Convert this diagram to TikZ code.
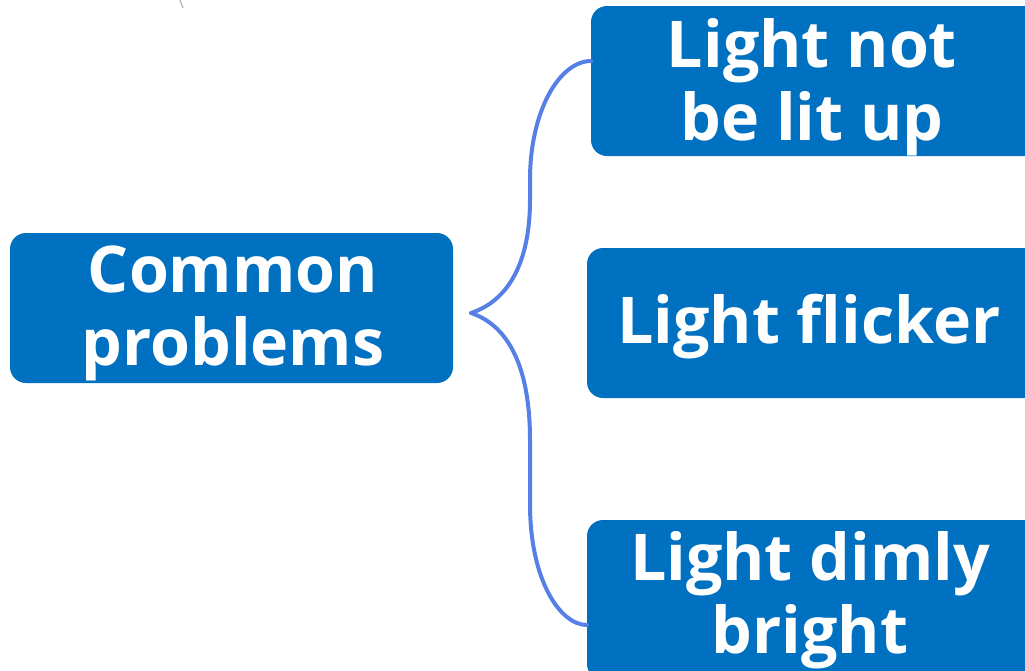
\documentclass[tikz,border=0pt]{standalone}
\usepackage{fontspec}
\setmainfont{Open Sans}
\definecolor{boxblue}{RGB}{0,112,192}
\definecolor{linkblue}{RGB}{86,128,230}
\begin{document}
\begin{tikzpicture}[x=1pt,y=-1pt,
  box/.style={fill=boxblue,rounded corners=16pt,inner sep=0pt},
  lbl/.style={text=white,font=\fontsize{64.5}{73}\selectfont\bfseries,align=center,inner sep=0pt,anchor=base},
  link/.style={draw=linkblue,line width=4pt,line cap=round}]
\useasboundingbox (0,0) rectangle (1025,670);
\clip (0,0) rectangle (1025,670);
\draw[gray!60,line width=1.2pt] (180,0) -- (183,8);
% boxes
\path[box] (10,233) rectangle (453,383);
\node[inner sep=0pt] (root) at (231.5,308) {};
\path[box] (591,6) rectangle (1040,156);
\node[inner sep=0pt] (b1) at (591,61) {};
\path[box] (587,248) rectangle (1040,398);
\node[inner sep=0pt] (b2) at (587,323) {};
\path[box] (587,520) rectangle (1040,680);
\node[inner sep=0pt] (b3) at (587,625) {};
% text
\node[lbl] (t0) at (233,365) {Common\\problems};
\node[lbl] (t1) at (812,140) {Light not\\be lit up};
\node[lbl] (t2) at (809,343) {Light flicker};
\node[lbl] (t3) at (810,653) {Light dimly\\bright};
% connectors
\coordinate (fork) at (471,313);
\draw[link] (fork) .. controls (510,300) and (530,260) .. (530,200) -- (530,180) .. controls (530,110) and (560,61) .. (b1.center);
\draw[link] (fork) .. controls (510,326) and (530,370) .. (530,440) -- (530,504) .. controls (530,580) and (560,625) .. (b3.center);
\end{tikzpicture}
\end{document}
